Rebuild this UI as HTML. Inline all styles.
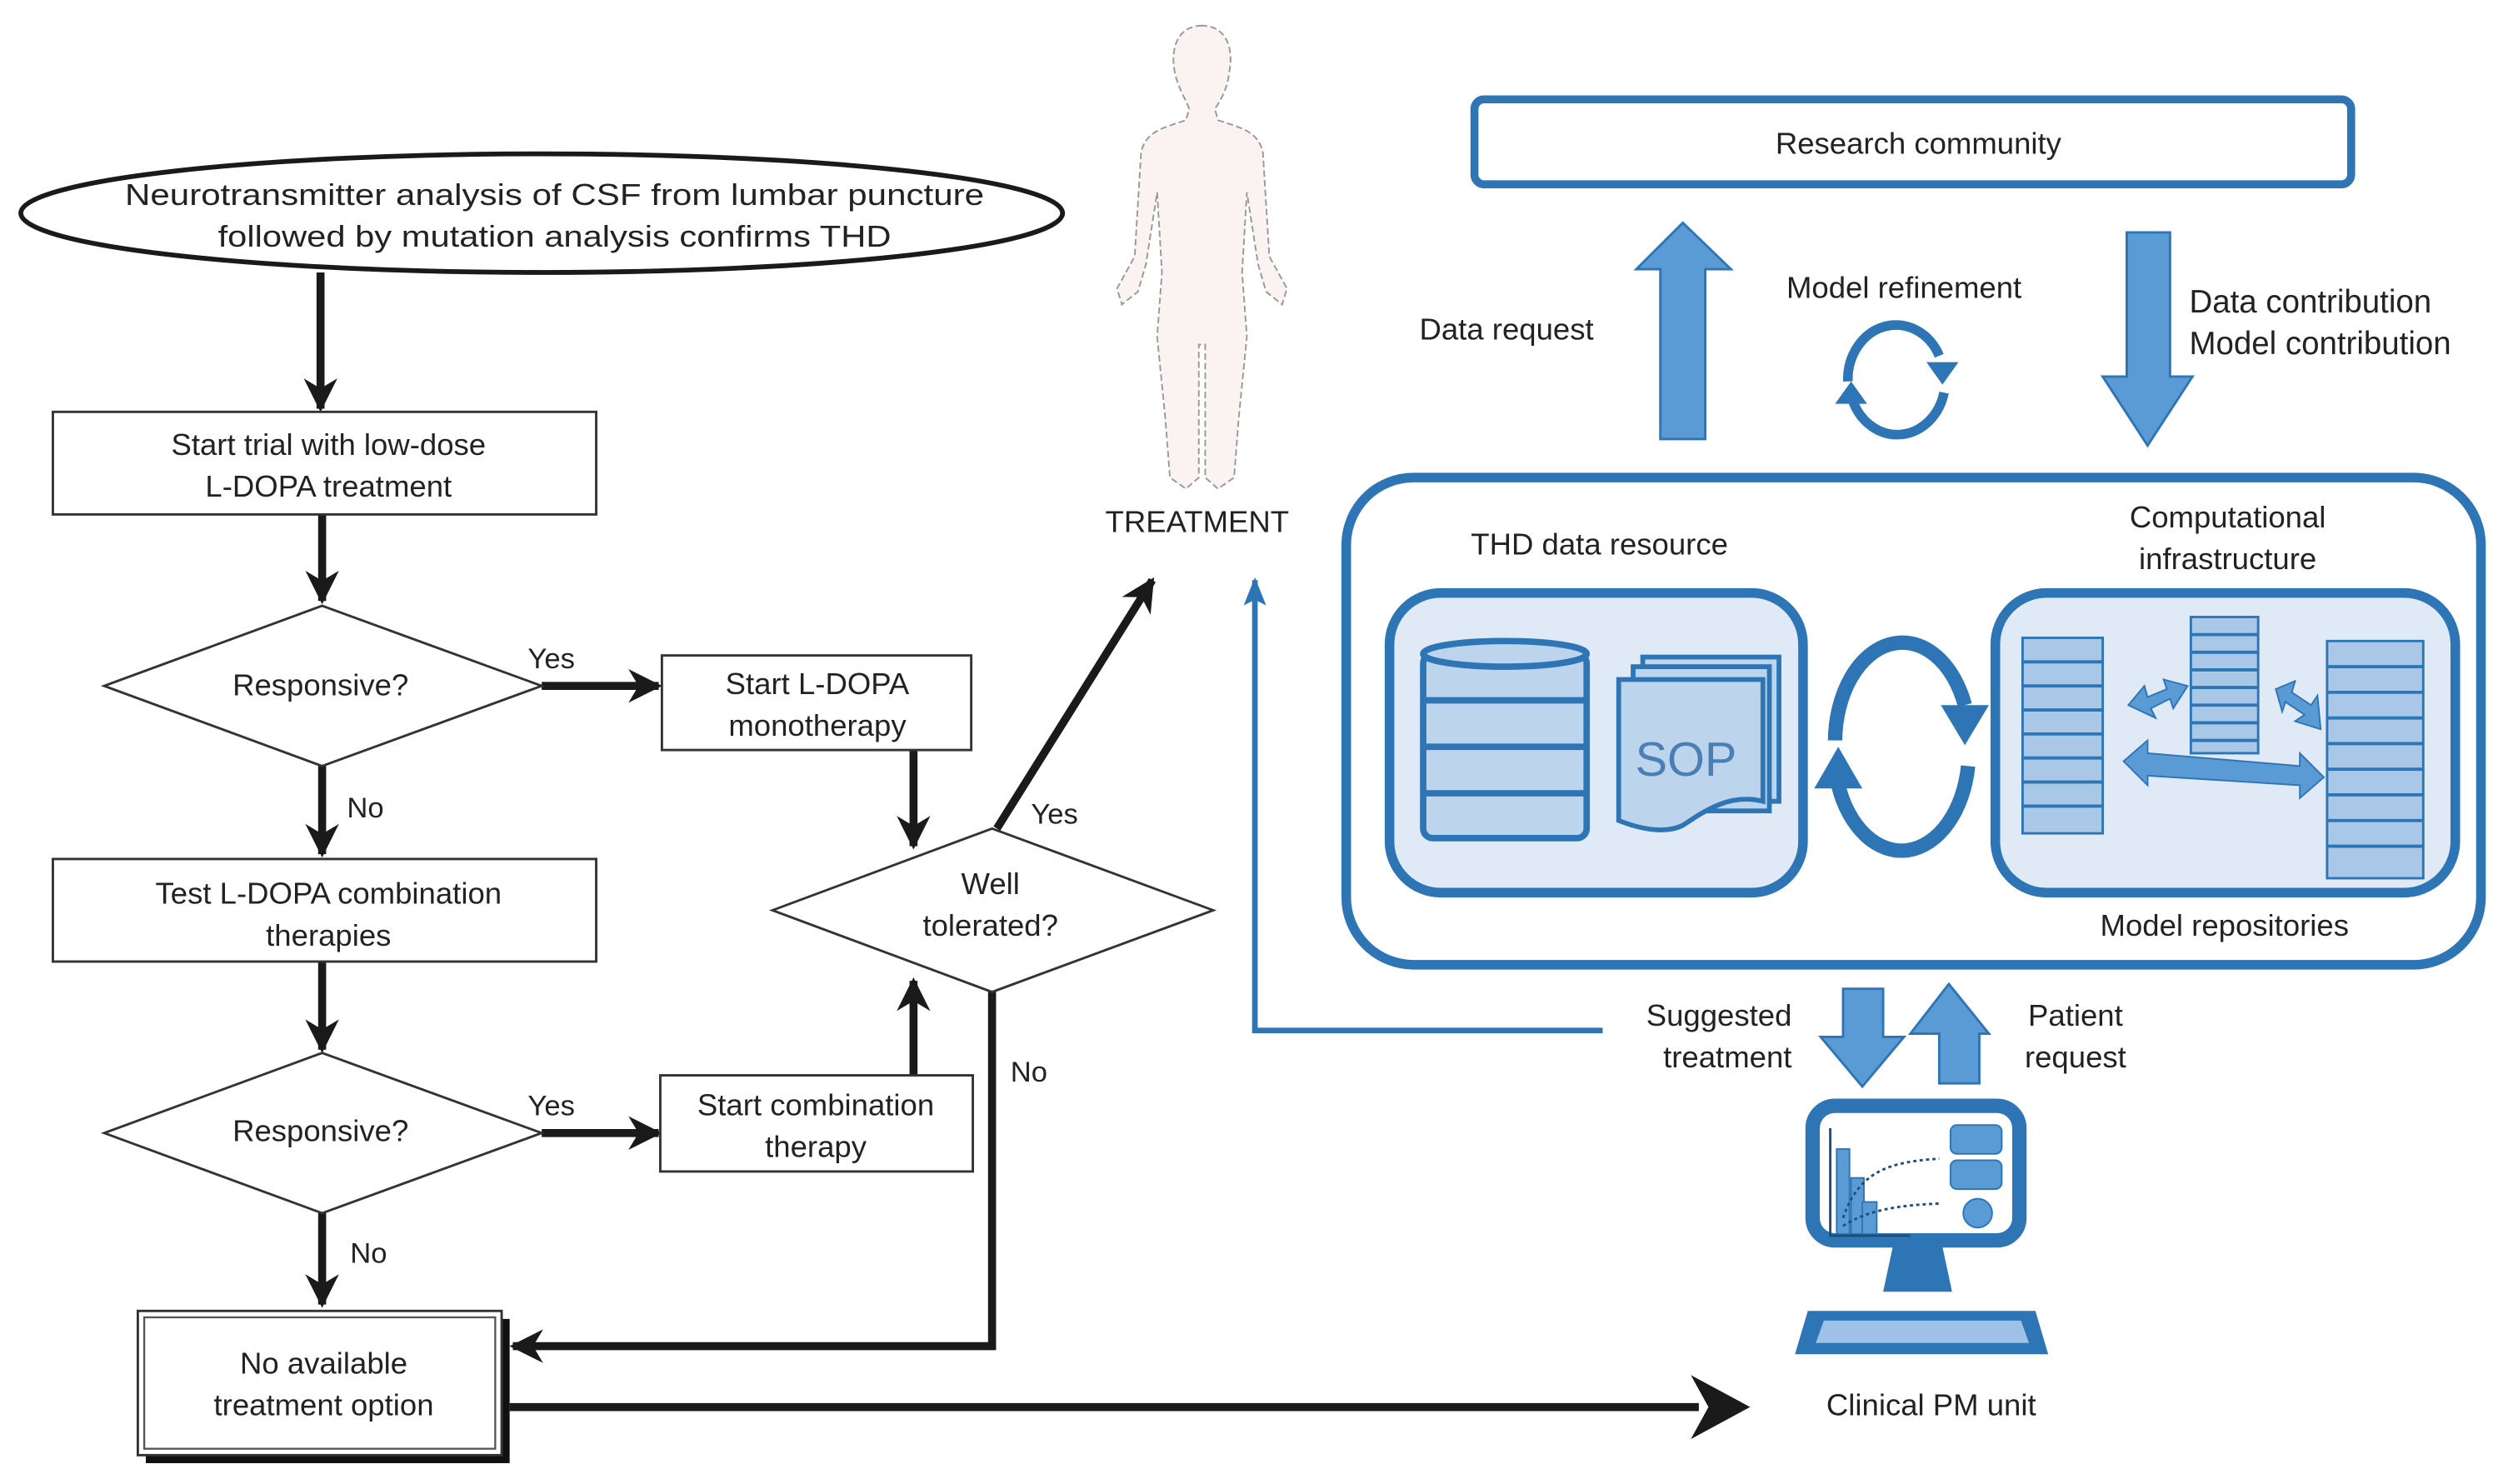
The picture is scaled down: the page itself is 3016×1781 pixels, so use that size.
<!DOCTYPE html>
<html><head><meta charset="utf-8"><style>html,body{margin:0;padding:0;background:#fff}svg{display:block}</style></head>
<body>
<svg width="3016" height="1781" viewBox="0 0 1568 926" preserveAspectRatio="none" xmlns="http://www.w3.org/2000/svg">
<defs>
<marker id="ah" viewBox="0 0 10 10" refX="9" refY="5" markerWidth="4.2" markerHeight="4.2" orient="auto" markerUnits="strokeWidth">
<path d="M0,0 L10,5 L0,10 L3,5 z" fill="#1a1a1a"/></marker>
<marker id="bh" viewBox="0 0 10 10" refX="9" refY="5" markerWidth="5" markerHeight="5" orient="auto" markerUnits="strokeWidth">
<path d="M0,1 L10,5 L0,9 L2,5 z" fill="#2e75b6"/></marker>
</defs>
<g font-family="'Liberation Sans Narrow','Liberation Sans',sans-serif" font-size="19" fill="#222" text-anchor="middle">
<ellipse cx="338" cy="133" rx="325" ry="37" fill="#fff" stroke="#1a1a1a" stroke-width="3"/>
<text x="346" y="128" textLength="536" lengthAdjust="spacingAndGlyphs">Neurotransmitter analysis of CSF from lumbar puncture</text>
<text x="346" y="154" textLength="420" lengthAdjust="spacingAndGlyphs">followed by mutation analysis confirms THD</text>
<g stroke="#1a1a1a" stroke-width="5" fill="none" marker-end="url(#ah)">
<line x1="200" y1="170" x2="200" y2="255"/>
<line x1="201" y1="321" x2="201" y2="375"/>
<line x1="338" y1="428" x2="411" y2="428"/>
<line x1="201" y1="478" x2="201" y2="533"/>
<line x1="201" y1="600" x2="201" y2="655"/>
<line x1="338" y1="707" x2="411" y2="707"/>
<line x1="201" y1="757" x2="201" y2="814"/>
<line x1="570" y1="468" x2="570" y2="528"/>
<line x1="570" y1="671" x2="570" y2="612"/>
<line x1="622" y1="517" x2="719" y2="362"/>
<polyline points="619,619 619,840 320,840"/>
</g>
<line x1="318" y1="878" x2="1060" y2="878" stroke="#1a1a1a" stroke-width="5"/>
<polygon points="1055,858 1092,878 1055,898 1066,878" fill="#1a1a1a"/>
<g fill="#fff" stroke="#333" stroke-width="1.5">
<rect x="33" y="257" width="339" height="64"/>
<polygon points="65,428 201,378 338,428 201,478"/>
<rect x="413" y="409" width="193" height="59"/>
<rect x="33" y="536" width="339" height="64"/>
<polygon points="65,707 201,657 338,707 201,757"/>
<rect x="412" y="671" width="195" height="60"/>
<polygon points="482,568 619,517 757,568 619,619"/>
</g>
<rect x="91" y="823" width="227" height="90" fill="#111"/>
<rect x="86" y="818" width="227" height="90" fill="#fff" stroke="#333" stroke-width="1.5"/>
<rect x="90" y="822" width="219" height="82" fill="none" stroke="#555" stroke-width="1.2"/>
<text x="205" y="284">Start trial with low-dose</text>
<text x="205" y="310">L-DOPA treatment</text>
<text x="200" y="434">Responsive?</text>
<text x="344" y="417" font-size="18">Yes</text>
<text x="510" y="433">Start L-DOPA</text>
<text x="510" y="459">monotherapy</text>
<text x="228" y="510" font-size="18">No</text>
<text x="205" y="564">Test L-DOPA combination</text>
<text x="205" y="590">therapies</text>
<text x="200" y="712">Responsive?</text>
<text x="344" y="696" font-size="18">Yes</text>
<text x="509" y="696">Start combination</text>
<text x="509" y="722">therapy</text>
<text x="618" y="558">Well</text>
<text x="618" y="584">tolerated?</text>
<text x="658" y="514" font-size="18">Yes</text>
<text x="642" y="675" font-size="18">No</text>
<text x="230" y="788" font-size="18">No</text>
<text x="202" y="857">No available</text>
<text x="202" y="883">treatment option</text>
</g>
<g fill="#fbf3f1" stroke="#999" stroke-width="1" stroke-dasharray="4,2">
<path d="M750,16 C735,16 730,30 733,45 C735,55 740,62 742,68 L740,75 C725,80 715,82 712,95 L708,160 L697,180 L700,190 L710,182 L715,165 L722,120 L725,170 L722,210 L727,260 L730,298 L740,305 L748,298 L748,215 L752,215 L752,298 L760,305 L770,298 L773,260 L778,210 L775,170 L778,120 L785,165 L790,182 L800,190 L803,180 L792,160 L788,95 C785,82 775,80 760,75 L758,68 C762,62 766,55 767,45 C770,30 765,16 750,16 Z"/>
</g>
<text x="747" y="332" font-family="'Liberation Sans',sans-serif" font-size="19" fill="#222" text-anchor="middle">TREATMENT</text>
<polyline points="1000,643 783,643 783,362" fill="none" stroke="#2e75b6" stroke-width="3.5" marker-end="url(#bh)"/>
<g font-family="'Liberation Sans',sans-serif" font-size="19" fill="#222">
<rect x="920" y="62" width="547" height="53" rx="6" fill="#fff" stroke="#2e75b6" stroke-width="5"/>
<text x="1197" y="96" text-anchor="middle">Research community</text>
<text x="940" y="212" text-anchor="middle">Data request</text>
<text x="1188" y="186" text-anchor="middle">Model refinement</text>
<text x="1366" y="195" font-size="20">Data contribution</text>
<text x="1366" y="221" font-size="20">Model contribution</text>
<g fill="#5b9bd5" stroke="#2e75b6" stroke-width="1.5">
<polygon points="1036,274 1064,274 1064,168 1080,168 1050,139 1021,168 1036,168"/>
<polygon points="1327,145 1354,145 1354,235 1368,235 1340,278 1312,235 1327,235"/>
<polygon points="1150,617 1175,617 1175,647 1188,647 1162,678 1136,647 1150,647"/>
<polygon points="1210,676 1235,676 1235,645 1241,645 1216,614 1192,645 1210,645"/>
</g>
<!-- refinement cycle -->
<g fill="none" stroke="#2e75b6" stroke-width="6">
<path d="M1153,238 A30,34 0 0 1 1210,222"/>
<path d="M1213,245 A30,34 0 0 1 1156,250"/>
</g>
<polygon points="1202,226 1222,226 1212,240" fill="#2e75b6"/>
<polygon points="1145,252 1165,252 1155,238" fill="#2e75b6"/>
<rect x="840" y="298" width="708" height="304" rx="42" fill="#fff" stroke="#2e75b6" stroke-width="6"/>
<text x="998" y="346" text-anchor="middle">THD data resource</text>
<text x="1390" y="329" text-anchor="middle">Computational</text>
<text x="1390" y="355" text-anchor="middle">infrastructure</text>
<text x="1388" y="584" text-anchor="middle">Model repositories</text>
<rect x="867" y="370" width="258" height="187" rx="32" fill="#dfeaf6" stroke="#2e75b6" stroke-width="6"/>
<rect x="1245" y="370" width="287" height="187" rx="32" fill="#dfeaf6" stroke="#2e75b6" stroke-width="6"/>
<g fill="#bcd4ec" stroke="#2e75b6" stroke-width="4">
<rect x="888" y="408" width="102" height="115" rx="6"/>
<ellipse cx="939" cy="408" rx="51" ry="8"/>
<line x1="888" y1="437" x2="990" y2="437"/>
<line x1="888" y1="466" x2="990" y2="466"/>
<line x1="888" y1="495" x2="990" y2="495"/>
</g>
<g fill="#bcd4ec" stroke="#2e75b6" stroke-width="3">
<rect x="1025" y="410" width="85" height="90"/>
<rect x="1019" y="416" width="85" height="90"/>
<path d="M1010,424 L1100,424 L1100,500 C1080,495 1065,505 1050,515 C1040,520 1025,518 1010,512 Z"/>
</g>
<text x="1052" y="484" text-anchor="middle" font-size="30" fill="#4a7fb5">SOP</text>
<!-- middle cycle -->
<g fill="none" stroke="#2e75b6" stroke-width="9">
<path d="M1145,462 A42,62 0 0 1 1226,440"/>
<path d="M1228,478 A42,62 0 0 1 1147,490"/>
</g>
<polygon points="1211,440 1241,440 1226,465" fill="#2e75b6"/>
<polygon points="1132,492 1162,492 1147,466" fill="#2e75b6"/>
<g fill="#a9c8e8" stroke="#2e75b6" stroke-width="1.5">
<rect x="1262" y="398" width="50" height="122"/>
<rect x="1367" y="385" width="42" height="85"/>
<rect x="1452" y="400" width="60" height="148"/>
</g>
<g stroke="#2e75b6" stroke-width="2">
<path d="M1262,413H1312M1262,428H1312M1262,443H1312M1262,458H1312M1262,473H1312M1262,488H1312M1262,503H1312"/>
<path d="M1367,396H1409M1367,407H1409M1367,418H1409M1367,429H1409M1367,440H1409M1367,451H1409M1367,462H1409"/>
<path d="M1452,416H1512M1452,432H1512M1452,448H1512M1452,464H1512M1452,480H1512M1452,496H1512M1452,512H1512M1452,528H1512"/>
</g>
<g fill="#5b9bd5" stroke="#2e75b6" stroke-width="1">
<polygon points="1325,475 1340,462 1340,470 1435,478 1435,470 1450,485 1435,498 1435,490 1340,484 1340,490"/>
<polygon points="1328,440 1338,428 1340,435 1352,430 1350,424 1365,428 1356,442 1354,436 1342,442 1345,448"/>
<polygon points="1420,430 1432,425 1430,432 1442,440 1446,434 1448,455 1432,450 1438,446 1426,438 1424,444"/>
</g>
<text x="1118" y="640" text-anchor="end">Suggested</text>
<text x="1118" y="666" text-anchor="end">treatment</text>
<text x="1295" y="640" text-anchor="middle">Patient</text>
<text x="1295" y="666" text-anchor="middle">request</text>
<rect x="1131" y="690" width="129" height="84" rx="14" fill="#fff" stroke="#2e75b6" stroke-width="9"/>
<polygon points="1181,778 1212,778 1218,806 1175,806" fill="#2e75b6"/>
<polygon points="1128,818 1270,818 1278,845 1120,845" fill="#2e75b6"/>
<polygon points="1138,824 1261,824 1266,838 1133,838" fill="#9dc2e6"/>
<g fill="#5b9bd5" stroke="#2e75b6" stroke-width="1">
<rect x="1146" y="717" width="8" height="53"/>
<rect x="1155" y="735" width="8" height="35"/>
<rect x="1162" y="750" width="9" height="20"/>
<rect x="1217" y="702" width="32" height="18" rx="4"/>
<rect x="1217" y="724" width="32" height="18" rx="4"/>
<circle cx="1234" cy="757" r="9"/>
</g>
<path d="M1142,704 V771 H1192" fill="none" stroke="#1f4e79" stroke-width="1.5"/>
<path d="M1150,760 C1160,730 1180,725 1210,723 M1150,765 C1165,755 1185,752 1210,751" fill="none" stroke="#1f4e79" stroke-width="1.5" stroke-dasharray="2,2"/>
<text x="1205" y="883" text-anchor="middle">Clinical PM unit</text>
</g>
</svg>
</body></html>
